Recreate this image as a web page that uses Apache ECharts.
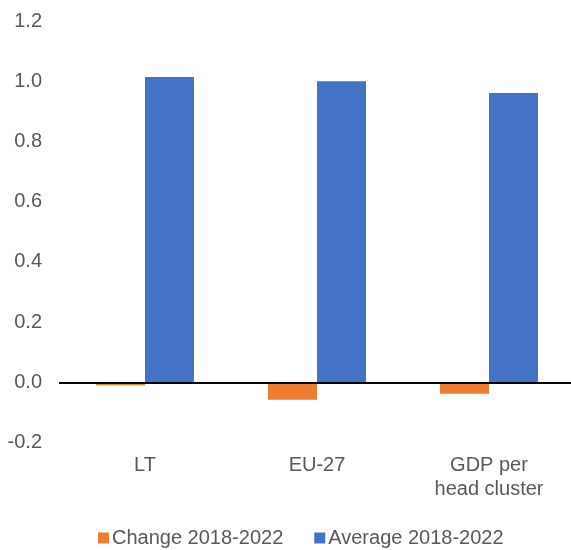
<!DOCTYPE html>
<html>
<head>
<meta charset="utf-8">
<script src="https://cdn.jsdelivr.net/npm/echarts@6/dist/echarts.min.js"></script>
<style>
html,body{margin:0;padding:0;background:#fff;}
#chart{width:571px;height:550px;}
</style>
</head>
<body>
<div id="chart"></div>
<script>
var categories = ['LT', 'EU-27', 'GDP per\nhead cluster'];
var changeValues = [-0.010, -0.058, -0.038];
var averageValues = [1.014, 1.000, 0.961];
var seriesNames = ['Change 2018-2022', 'Average 2018-2022'];
var yMin = -0.2, yMax = 1.2, yStep = 0.2;

var textColor = '#595959';
var font = '"Liberation Sans", Arial, sans-serif';

var chart = echarts.init(document.getElementById('chart'));
chart.setOption({
  animation: false,
  textStyle: { fontFamily: font },
  grid: { left: 59, top: 21, width: 516, bottom: 107.5, containLabel: false, outerBoundsMode: 'none' },
  legend: {
    left: 93, top: 523,
    itemWidth: 11, itemHeight: 11, itemGap: 31,
    icon: 'rect',
    textStyle: { color: textColor, fontSize: 20, fontFamily: font, padding: [0, 0, 0, -2] },
    data: seriesNames
  },
  xAxis: {
    type: 'category',
    data: categories,
    axisLine: { show: false },
    axisTick: { show: false },
    axisLabel: { color: textColor, fontSize: 20, fontFamily: font, lineHeight: 24, margin: 11 }
  },
  yAxis: {
    type: 'value',
    min: yMin, max: yMax, interval: yStep,
    axisLine: { show: false },
    axisTick: { show: false },
    splitLine: { show: false },
    axisLabel: {
      color: textColor, fontSize: 20, fontFamily: font, margin: 17,
      formatter: function (v) { return v.toFixed(1); }
    }
  },
  series: [
    {
      name: seriesNames[0], type: 'bar', data: changeValues,
      barWidth: 49, barGap: '0%',
      itemStyle: { color: '#ED7D31' }
    },
    {
      name: seriesNames[1], type: 'bar', data: averageValues,
      barWidth: 49, barGap: '0%',
      itemStyle: { color: '#4472C4' },
      markLine: {
        silent: true, symbol: 'none', label: { show: false },
        lineStyle: { color: '#000', width: 2, type: 'solid' },
        data: [{ yAxis: 0 }]
      }
    }
  ]
});
</script>
</body>
</html>
